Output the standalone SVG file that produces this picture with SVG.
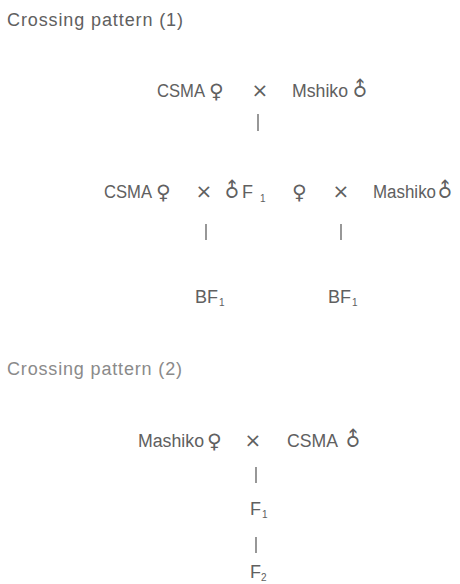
<svg xmlns="http://www.w3.org/2000/svg" width="460" height="584" viewBox="0 0 460 584">
<style>
text{font-family:"Liberation Sans",Arial,sans-serif;font-size:18px;fill:#606060}
.sym{font-family:"DejaVu Sans",sans-serif;font-size:20px}
.x{font-family:"DejaVu Sans",sans-serif;font-size:20px;text-anchor:middle}
.sub{font-size:10px;fill:#606060}
.light{fill:#8a8a8a}
line{stroke:#606060;stroke-width:1.3}
</style>
<rect width="460" height="584" fill="#fff"/>
<text x="7" y="26" textLength="176" lengthAdjust="spacing">Crossing  pattern (1)</text>
<g id="row1">
<text x="157" y="97" textLength="48" lengthAdjust="spacingAndGlyphs">CSMA</text>
<text class="sym" x="209" y="98">♀</text>
<text class="x" x="260" y="97">×</text>
<text x="292" y="97" textLength="56" lengthAdjust="spacingAndGlyphs">Mshiko</text>
<text class="sym" x="361" y="90" text-anchor="middle" dominant-baseline="middle" transform="rotate(-45 361 90)">♂</text>
</g>
<g id="row2">
<text x="104" y="198" textLength="48" lengthAdjust="spacingAndGlyphs">CSMA</text>
<text class="sym" x="156" y="199">♀</text>
<text class="x" x="204" y="198">×</text>
<text class="sym" x="233" y="191" text-anchor="middle" dominant-baseline="middle" transform="rotate(-45 233 191)">♂</text>
<text x="242" y="198">F</text><text class="sub" x="260" y="202">1</text>
<text class="sym" x="292" y="199">♀</text>
<text class="x" x="341" y="198">×</text>
<text x="373" y="198" textLength="63" lengthAdjust="spacingAndGlyphs">Mashiko</text>
<text class="sym" x="446" y="191" text-anchor="middle" dominant-baseline="middle" transform="rotate(-45 446 191)">♂</text>
</g>
<g id="bf1"><text x="195" y="303">BF</text><text class="sub" x="219" y="306">1</text></g>
<g id="bf2"><text x="328" y="303">BF</text><text class="sub" x="352" y="306">1</text></g>
<text class="light" x="7" y="375" textLength="175" lengthAdjust="spacing">Crossing  pattern (2)</text>
<g id="row3">
<text x="138" y="447" textLength="66" lengthAdjust="spacingAndGlyphs">Mashiko</text>
<text class="sym" x="207" y="448">♀</text>
<text class="x" x="253" y="447">×</text>
<text x="287" y="447" textLength="51" lengthAdjust="spacingAndGlyphs">CSMA</text>
<text class="sym" x="354" y="440" text-anchor="middle" dominant-baseline="middle" transform="rotate(-45 354 440)">♂</text>
</g>
<g id="f1"><text x="250" y="515">F</text><text class="sub" x="262" y="518">1</text></g>
<g id="f2"><text x="250" y="578">F</text><text class="sub" x="261" y="581">2</text></g>
<g id="connectors">
<line x1="258" y1="114" x2="258" y2="131"/>
<line x1="206" y1="224" x2="206" y2="240"/>
<line x1="341" y1="224" x2="341" y2="240"/>
<line x1="256" y1="467" x2="256" y2="483"/>
<line x1="256" y1="537" x2="256" y2="553"/>
</g>
</svg>
